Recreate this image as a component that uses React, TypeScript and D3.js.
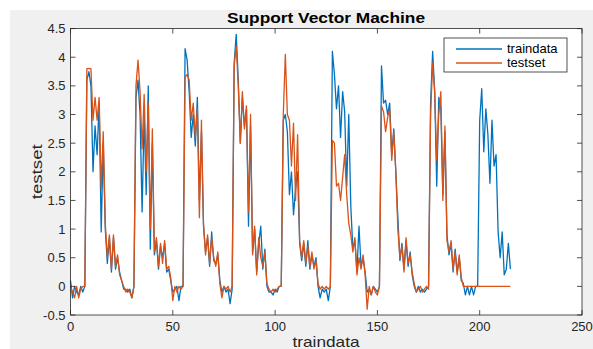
import React from "react";
import * as d3 from "d3";

const title = "Support Vector Machine";
const xLabel = "traindata";
const yLabel = "testset";
const seriesNames = ["traindata", "testset"];
const xTicks = [0, 50, 100, 150, 200, 250];
const yTicks = [-0.5, 0, 0.5, 1, 1.5, 2, 2.5, 3, 3.5, 4, 4.5];

const trainData = [
  0.1, -0.2, 0.0, -0.1, -0.15, 0.0, -0.1, 0.0,
  3.6, 3.75, 3.5, 2.0, 2.8, 2.3, 3.2, 0.95, 2.5, 1.0, 0.4, 0.85, 0.25, 0.85, 0.3, 0.5, 0.25, 0.1, -0.05, -0.05, -0.1, -0.05, -0.2, 0.0,
  3.3, 3.6, 3.0, 1.3, 3.0, 1.6, 3.5, 0.65, 2.5, 0.55, 0.8, 0.3, 0.7, 0.5, 0.75, 0.25, 0.3, 0.1, -0.1, -0.05, 0.0, -0.25, 0.0, 0.0,
  4.15, 3.95, 3.4, 2.6, 3.0, 2.45, 3.3, 1.5, 2.7, 1.05, 0.6, 0.85, 0.35, 0.95, 0.45, 0.4, 0.55, 0.1, -0.1, 0.0, -0.1, -0.05, -0.3, -0.05,
  3.9, 4.4, 3.6, 2.5, 3.3, 2.8, 3.1, 1.05, 2.8, 0.6, 1.0, 0.25, 0.75, 1.05, 0.3, 0.65, 0.0, -0.1, -0.1, -0.15, -0.05, -0.1, 0.0, 0.0,
  2.9, 3.0, 2.7, 1.6, 2.0, 1.25, 1.7, 2.0, 0.75, 0.45, 0.75, 0.35, 0.8, 0.3, 0.55, 0.35, 0.5, 0.0, -0.2, -0.05, -0.1, -0.05, -0.25, 0.0,
  4.1, 3.7, 3.1, 3.5, 2.6, 3.4, 3.05, 1.75, 3.0, 1.4, 0.65, 0.8, 0.25, 1.05, 0.35, 0.5, 0.25, -0.1, -0.05, -0.15, 0.0, -0.05, -0.1, 0.0,
  3.85, 3.2, 3.25, 3.0, 3.2, 2.3, 2.75, 2.0, 1.2, 0.45, 0.75, 0.3, 0.8, 0.35, 0.6, 0.2, 0.0, -0.1, 0.0, -0.1, -0.05, -0.1, -0.05, 0.0,
  3.2, 4.1, 3.4, 1.75, 3.3, 3.1, 1.6, 2.7, 0.9, 0.55, 0.75, 0.25, 0.65, 0.25, 0.5, 0.1, 0.05, -0.15, 0.0, -0.15, 0.0, -0.15, 0.0, 0.0,
  2.9, 3.45, 2.35, 3.1, 2.65, 1.8, 2.9, 2.1, 2.3, 0.95, 0.5, 0.95, 0.2, 0.3, 0.75, 0.3,
];

const testSet = [
  0.0, -0.1, -0.2, 0.0, -0.2, -0.05, 0.0, 0.0,
  3.8, 3.8, 3.8, 2.9, 3.3, 2.9, 3.3, 1.7, 2.7, 1.1, 0.5, 0.9, 0.3, 0.9, 0.35, 0.55, 0.2, 0.1, 0.0, -0.1, -0.05, -0.1, -0.2, 0.0,
  3.5, 3.95, 3.4, 2.4, 3.35, 2.0, 3.2, 1.0, 2.75, 0.6, 0.85, 0.35, 0.75, 0.4, 0.8, 0.3, 0.35, 0.15, -0.25, 0.0, -0.1, 0.0, -0.05, 0.0,
  3.65, 3.7, 3.6, 2.9, 3.2, 2.6, 3.1, 1.2, 2.9, 1.1, 0.55, 0.9, 0.4, 0.85, 0.5, 0.35, 0.6, 0.05, -0.2, 0.0, -0.05, 0.0, -0.1, 0.0,
  3.85, 4.2, 3.5, 2.5, 3.4, 2.75, 3.15, 1.3, 3.0, 0.55, 1.05, 0.2, 0.85, 0.5, 0.35, 0.6, 0.05, -0.05, -0.1, -0.05, -0.1, -0.05, 0.0, 0.0,
  3.0, 4.05, 3.0, 2.9, 2.1, 2.85, 1.5, 2.65, 0.8, 0.5, 0.8, 0.4, 0.7, 0.35, 0.6, 0.3, 0.45, 0.05, -0.05, 0.0, -0.05, 0.0, -0.05, 0.0,
  2.55, 2.5, 1.75, 1.8, 1.5, 1.9, 2.3, 1.6, 1.1, 0.9, 0.6, 0.85, 0.2, 0.5, 0.3, 0.55, 0.2, -0.4, 0.0, -0.15, 0.0, -0.1, -0.15, 0.0,
  3.15, 3.05, 2.7, 2.95, 3.1, 2.2, 2.7, 2.0, 1.0, 0.5, 0.7, 0.25, 0.85, 0.4, 0.55, 0.25, 0.05, -0.1, -0.05, 0.0, -0.1, -0.05, 0.0, -0.05,
  3.0, 3.9, 3.4, 2.2, 3.0, 3.4, 1.5, 2.8, 0.8, 0.6, 0.8, 0.3, 0.6, 0.2, 0.55, 0.15, 0.0, 0.0, 0.0, 0.0, 0.0, 0.0, 0.0, 0.0,
  0, 0, 0, 0, 0, 0, 0, 0, 0, 0, 0, 0, 0, 0, 0, 0,
];

const colors = ["#0072BD", "#D95319"];
const FONT = "'Liberation Sans', Arial, Helvetica, sans-serif";
const AXIS = "#262626";

export default function App() {
  const W = 593, H = 349;
  const left = 70.5, right = 582, top = 28.6, bottom = 315;
  const x = d3.scaleLinear().domain([0, 250]).range([left, right]);
  const y = d3.scaleLinear().domain([-0.5, 4.5]).range([bottom, top]);
  const line = d3.line<number>().x((_, i) => x(i)).y((d) => y(d));
  const tl = 5;

  return (
    <svg width={W} height={H} style={{ position: "absolute", left: 0, top: 0 }} fontFamily={FONT}>
      <rect x={0} y={0} width={W} height={H} fill="#ffffff" />
      <rect x={10} y={10} width={W - 10} height={H - 10} fill="#f0f0f0" />
      <rect x={left} y={top} width={right - left} height={bottom - top} fill="#ffffff" />

      <path d={line(trainData) || ""} fill="none" stroke={colors[0]} strokeWidth={1.3} strokeLinejoin="round" />
      <path d={line(testSet) || ""} fill="none" stroke={colors[1]} strokeWidth={1.3} strokeLinejoin="round" />

      <rect x={left} y={top} width={right - left} height={bottom - top} fill="none" stroke={AXIS} strokeWidth={0.8} />
      {xTicks.map((t) => (
        <g key={"x" + t}>
          <line x1={x(t)} x2={x(t)} y1={bottom} y2={bottom - tl} stroke={AXIS} strokeWidth={0.8} />
          <line x1={x(t)} x2={x(t)} y1={top} y2={top + tl} stroke={AXIS} strokeWidth={0.8} />
          <text x={x(t)} y={bottom + 16} textAnchor="middle" fontSize={13} fill={AXIS}>{t}</text>
        </g>
      ))}
      {yTicks.map((t) => (
        <g key={"y" + t}>
          <line x1={left} x2={left + tl} y1={y(t)} y2={y(t)} stroke={AXIS} strokeWidth={0.8} />
          <line x1={right} x2={right - tl} y1={y(t)} y2={y(t)} stroke={AXIS} strokeWidth={0.8} />
          <text x={left - 5} y={y(t) + 4.5} textAnchor="end" fontSize={13} fill={AXIS}>{t}</text>
        </g>
      ))}

      <text x={326} y={23} textAnchor="middle" fontSize={14} fontWeight="bold" fill="#000"
        textLength={198} lengthAdjust="spacingAndGlyphs">{title}</text>
      <text x={326} y={347} textAnchor="middle" fontSize={15} fill={AXIS}
        textLength={67} lengthAdjust="spacingAndGlyphs">{xLabel}</text>
      <text transform={`translate(42,${(top + bottom) / 2}) rotate(-90)`} textAnchor="middle" fontSize={15} fill={AXIS}
        textLength={55} lengthAdjust="spacingAndGlyphs">{yLabel}</text>

      <g>
        <rect x={444} y={38} width={123} height={34} fill="#ffffff" stroke={AXIS} strokeWidth={0.8} />
        {seriesNames.map((n, i) => (
          <g key={n}>
            <line x1={456} x2={502} y1={49 + i * 14} y2={49 + i * 14} stroke={colors[i]} strokeWidth={1.3} />
            <text x={507} y={53 + i * 14} fontSize={13} fill="#000">{n}</text>
          </g>
        ))}
      </g>
    </svg>
  );
}
